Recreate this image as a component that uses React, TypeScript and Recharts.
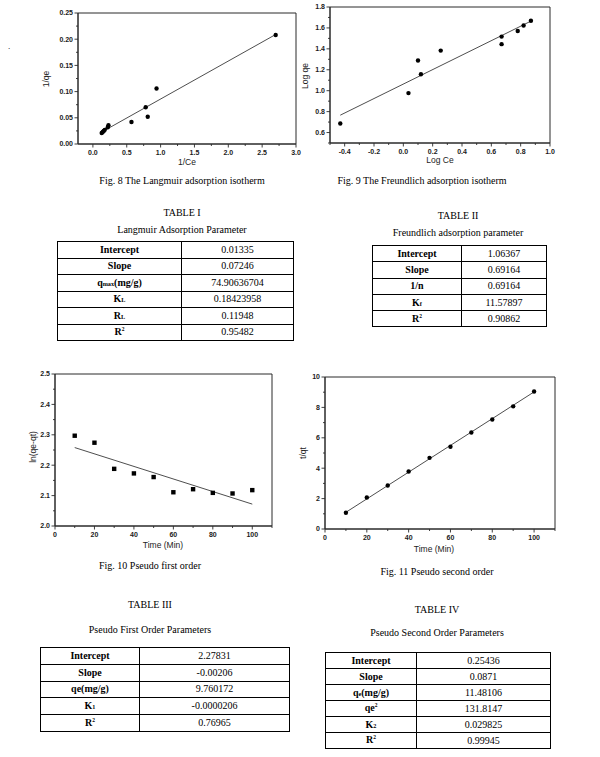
import React from 'react';
import { ScatterChart, Scatter, XAxis, YAxis, ReferenceArea } from 'recharts';

// ---------- Fig. 8 Langmuir ----------
const langX = [0.13, 0.145, 0.16, 0.175, 0.22, 0.23, 0.57, 0.78, 0.81, 0.94, 2.7];
const langY = [0.021, 0.023, 0.025, 0.027, 0.032, 0.036, 0.042, 0.07, 0.052, 0.106, 0.208];
const langFitX = [0.13, 2.7];
const langFitY = [0.0228, 0.209];
const langXMajor = [0, 0.5, 1, 1.5, 2, 2.5, 3];
const langXMinor = [0.25, 0.75, 1.25, 1.75, 2.25, 2.75];
const langYMajor = [0, 0.05, 0.1, 0.15, 0.2, 0.25];
const langYMinor = [0.025, 0.075, 0.125, 0.175, 0.225];

// ---------- Fig. 9 Freundlich ----------
const freX = [-0.43, 0.035, 0.1, 0.12, 0.255, 0.67, 0.67, 0.78, 0.82, 0.87];
const freY = [0.686, 0.977, 1.288, 1.157, 1.383, 1.445, 1.517, 1.57, 1.623, 1.668];
const freFitX = [-0.43, 0.87];
const freFitY = [0.766, 1.665];
const freXMajor = [-0.4, -0.2, 0, 0.2, 0.4, 0.6, 0.8, 1.0];
const freXMinor = [-0.5, -0.3, -0.1, 0.1, 0.3, 0.5, 0.7, 0.9];
const freYMajor = [0.6, 0.8, 1.0, 1.2, 1.4, 1.6, 1.8];
const freYMinor = [0.5, 0.7, 0.9, 1.1, 1.3, 1.5, 1.7];

// ---------- Fig. 10 Pseudo first order ----------
const timeMin = [10, 20, 30, 40, 50, 60, 70, 80, 90, 100];
const pfoY = [2.297, 2.274, 2.188, 2.173, 2.161, 2.111, 2.121, 2.109, 2.107, 2.118];
const pfoFitX = [10, 100];
const pfoFitY = [2.258, 2.072];
const timeMajor = [0, 20, 40, 60, 80, 100];
const timeMinor = [10, 30, 50, 70, 90, 110];
const pfoYMajor = [2.0, 2.1, 2.2, 2.3, 2.4, 2.5];
const pfoYMinor = [2.05, 2.15, 2.25, 2.35, 2.45];

// ---------- Fig. 11 Pseudo second order ----------
const psoY = [1.07, 2.07, 2.86, 3.78, 4.68, 5.41, 6.35, 7.2, 8.07, 9.05];
const psoFitX = [10, 100];
const psoFitY = [1.1, 9.02];
const psoYMajor = [0, 2, 4, 6, 8, 10];
const psoYMinor = [1, 3, 5, 7, 9];

// ---------- Tables ----------
const t1Labels = ['Intercept', 'Slope', 'qmax(mg/g)', 'KL', 'RL', 'R2'];
const t1Values = ['0.01335', '0.07246', '74.90636704', '0.18423958', '0.11948', '0.95482'];
const t2Labels = ['Intercept', 'Slope', '1/n', 'Kf', 'R2'];
const t2Values = ['1.06367', '0.69164', '0.69164', '11.57897', '0.90862'];
const t3Labels = ['Intercept', 'Slope', 'qe(mg/g)', 'K1', 'R2'];
const t3Values = ['2.27831', '-0.00206', '9.760172', '-0.0000206', '0.76965'];
const t4Labels = ['Intercept', 'Slope', 'qe(mg/g)', 'qe2', 'K2', 'R2'];
const t4Values = ['0.25436', '0.0871', '11.48106', '131.8147', '0.029825', '0.99945'];

const AX = '#2a2a2a';
const SANS = '"Liberation Sans", Arial, sans-serif';
const SERIF = '"Liberation Serif", "Times New Roman", serif';

const zip = (xs: number[], ys: number[]) => xs.map((x, i) => ({ x, y: ys[i] }));

type Box = { l: number; t: number; r: number; b: number };
const PADL = 44, PADT = 10, PADR = 12, PADB = 30;

function Panel(p: {
  box: Box;
  xDomain: [number, number];
  yDomain: [number, number];
  xMajor: number[]; xMinor: number[]; yMajor: number[]; yMinor: number[];
  xFmt: (v: number) => string; yFmt: (v: number) => string;
  points: { x: number; y: number }[];
  fit: { x: number; y: number }[];
  marker: 'circle' | 'square';
}) {
  const width = p.box.r - p.box.l + PADL + PADR;
  const height = p.box.b - p.box.t + PADT + PADB;
  const isMajor = (arr: number[], v: number) => arr.some((m) => Math.abs(m - v) < 1e-9);
  const xTicks = [...p.xMajor, ...p.xMinor].sort((a, b) => a - b);
  const yTicks = [...p.yMajor, ...p.yMinor].sort((a, b) => a - b);
  const xTick = (props: any) => {
    const { x, y, payload } = props;
    const major = isMajor(p.xMajor, payload.value);
    return (
      <g>
        <line x1={x} y1={y} x2={x} y2={y + (major ? 3.5 : 2)} stroke={AX} strokeWidth={0.9} />
        {major && (
          <text x={x} y={y + 10.5} textAnchor="middle" fontSize={7} fontWeight="bold" fill="#1a1a1a" fontFamily={SANS}>
            {p.xFmt(payload.value)}
          </text>
        )}
      </g>
    );
  };
  const yTick = (props: any) => {
    const { x, y, payload } = props;
    const major = isMajor(p.yMajor, payload.value);
    return (
      <g>
        <line x1={x} y1={y} x2={x - (major ? 3.5 : 2)} y2={y} stroke={AX} strokeWidth={0.9} />
        {major && (
          <text x={x - 5} y={y} dy="0.35em" textAnchor="end" fontSize={7} fontWeight="bold" fill="#1a1a1a" fontFamily={SANS}>
            {p.yFmt(payload.value)}
          </text>
        )}
      </g>
    );
  };
  const dot = (props: any) => {
    const { cx, cy } = props;
    if (p.marker === 'square') return <rect x={cx - 2.2} y={cy - 2.2} width={4.4} height={4.4} fill="#000" />;
    return <circle cx={cx} cy={cy} r={2.2} fill="#000" />;
  };
  return (
    <div style={{ position: 'absolute', left: p.box.l - PADL, top: p.box.t - PADT }}>
      <ScatterChart width={width} height={height} margin={{ top: PADT, right: PADR, bottom: 0, left: 0 }}>
        <XAxis
          type="number" dataKey="x" domain={p.xDomain} ticks={xTicks} interval={0}
          tick={xTick} tickLine={false} tickSize={0} tickMargin={0} height={PADB}
          axisLine={{ stroke: AX, strokeWidth: 1 }} allowDataOverflow
        />
        <YAxis
          type="number" dataKey="y" domain={p.yDomain} ticks={yTicks} interval={0}
          tick={yTick} tickLine={false} tickSize={0} tickMargin={0} width={PADL}
          axisLine={{ stroke: AX, strokeWidth: 1 }} allowDataOverflow
        />
        <ReferenceArea
          x1={p.xDomain[0]} x2={p.xDomain[1]} y1={p.yDomain[0]} y2={p.yDomain[1]}
          fill="none" fillOpacity={0} stroke={AX} strokeWidth={1} strokeOpacity={1}
        />
        <Scatter data={p.fit} line={{ stroke: '#3a3a3a', strokeWidth: 0.9 }} shape={() => <g />} isAnimationActive={false} />
        <Scatter data={p.points} shape={dot} isAnimationActive={false} />
      </ScatterChart>
    </div>
  );
}

function Txt(props: { x: number; y: number; size: number; children: React.ReactNode; font?: string; rotate?: boolean; color?: string }) {
  return (
    <div
      style={{
        position: 'absolute', left: props.x, top: props.y, whiteSpace: 'nowrap',
        fontSize: props.size, fontFamily: props.font || SERIF, color: props.color || '#000',
        transform: `translate(-50%, -50%)${props.rotate ? ' rotate(-90deg)' : ''}`, lineHeight: 1,
      }}
    >
      {props.children}
    </div>
  );
}

const small: React.CSSProperties = { fontSize: '0.62em' };
function renderLabel(s: string): React.ReactNode {
  switch (s) {
    case 'qmax(mg/g)': return <>q<span style={small}>max</span>(mg/g)</>;
    case 'KL': return <>K<span style={small}>L</span></>;
    case 'RL': return <>R<span style={small}>L</span></>;
    case 'R2': return <>R<sup style={{ fontSize: '0.55em' }}>2</sup></>;
    case 'Kf': return <>K<span style={small}>f</span></>;
    case 'K1': return <>K<span style={small}>1</span></>;
    case 'K2': return <>K<span style={small}>2</span></>;
    case 'qe2': return <>qe<sup style={{ fontSize: '0.55em' }}>2</sup></>;
    default: return s;
  }
}

function DataTable(p: { left: number; top: number; right: number; divider: number; rowH: number; labels: string[]; values: string[]; qeSmall?: boolean }) {
  return (
    <table
      style={{
        position: 'absolute', left: p.left, top: p.top, width: p.right - p.left, borderCollapse: 'collapse',
        fontFamily: SERIF, fontSize: 10, color: '#000', tableLayout: 'fixed',
      }}
    >
      <tbody>
        {p.labels.map((lab, i) => (
          <tr key={i} style={{ height: p.rowH }}>
            <td style={{ width: p.divider - p.left, border: '1px solid #000', padding: 0, textAlign: 'center', fontWeight: 'bold', height: p.rowH - 1, lineHeight: 1 }}>
              {p.qeSmall && lab === 'qe(mg/g)' ? <>q<span style={small}>e</span>(mg/g)</> : renderLabel(lab)}
            </td>
            <td style={{ border: '1px solid #000', padding: 0, textAlign: 'center', height: p.rowH - 1, lineHeight: 1 }}>{p.values[i]}</td>
          </tr>
        ))}
      </tbody>
    </table>
  );
}

export default function App() {
  const f1 = (v: number) => v.toFixed(1);
  const f2 = (v: number) => v.toFixed(2);
  const f0 = (v: number) => v.toFixed(0);
  return (
    <div style={{ position: 'absolute', left: 0, top: 0, width: 600, height: 757, background: '#fff', overflow: 'hidden' }}>
      <Txt x={9} y={46} size={9}>.</Txt>

      {/* Fig 8 */}
      <Panel
        box={{ l: 78, t: 13, r: 296, b: 144 }} xDomain={[-0.22, 3.0]} yDomain={[0, 0.25]}
        xMajor={langXMajor} xMinor={langXMinor} yMajor={langYMajor} yMinor={langYMinor}
        xFmt={f1} yFmt={f2} points={zip(langX, langY)} fit={zip(langFitX, langFitY)} marker="circle"
      />
      <Txt x={46} y={79} size={8.5} font={SANS} rotate color="#222">1/qe</Txt>
      <Txt x={187} y={162} size={8.5} font={SANS} color="#222">1/Ce</Txt>
      <Txt x={182} y={181} size={10}>Fig. 8 The Langmuir adsorption isotherm</Txt>

      {/* Fig 9 */}
      <Panel
        box={{ l: 330, t: 7, r: 550, b: 143 }} xDomain={[-0.5, 1.0]} yDomain={[0.5, 1.8]}
        xMajor={freXMajor} xMinor={freXMinor} yMajor={freYMajor} yMinor={freYMinor}
        xFmt={f1} yFmt={f1} points={zip(freX, freY)} fit={zip(freFitX, freFitY)} marker="circle"
      />
      <Txt x={305} y={76} size={8.5} font={SANS} rotate color="#222">Log qe</Txt>
      <Txt x={440} y={160} size={8.5} font={SANS} color="#222">Log Ce</Txt>
      <Txt x={422} y={181} size={10}>Fig. 9 The Freundlich adsorption isotherm</Txt>

      {/* Table I */}
      <Txt x={182} y={213} size={10}>TABLE I</Txt>
      <Txt x={182} y={230} size={10}>Langmuir Adsorption Parameter</Txt>
      <DataTable left={57} top={241} right={294} divider={180} rowH={16.5} labels={t1Labels} values={t1Values} />

      {/* Table II */}
      <Txt x={458} y={216} size={10}>TABLE II</Txt>
      <Txt x={458} y={233} size={10}>Freundlich adsorption parameter</Txt>
      <DataTable left={372} top={245} right={547} divider={460} rowH={16.3} labels={t2Labels} values={t2Values} />

      {/* Fig 10 */}
      <Panel
        box={{ l: 55, t: 374, r: 272, b: 526 }} xDomain={[0, 110]} yDomain={[2.0, 2.5]}
        xMajor={timeMajor} xMinor={timeMinor} yMajor={pfoYMajor} yMinor={pfoYMinor}
        xFmt={f0} yFmt={f1} points={zip(timeMin, pfoY)} fit={zip(pfoFitX, pfoFitY)} marker="square"
      />
      <Txt x={33} y={447} size={8.5} font={SANS} rotate color="#222">ln(qe-qt)</Txt>
      <Txt x={163} y={545} size={8.5} font={SANS} color="#222">Time (Min)</Txt>
      <Txt x={150} y={566} size={10}>Fig. 10 Pseudo first order</Txt>

      {/* Fig 11 */}
      <Panel
        box={{ l: 325, t: 377, r: 555, b: 529 }} xDomain={[0, 110]} yDomain={[0, 10]}
        xMajor={timeMajor} xMinor={timeMinor} yMajor={psoYMajor} yMinor={psoYMinor}
        xFmt={f0} yFmt={f0} points={zip(timeMin, psoY)} fit={zip(psoFitX, psoFitY)} marker="circle"
      />
      <Txt x={303} y={453} size={8.5} font={SANS} rotate color="#222">t/qt</Txt>
      <Txt x={434} y={549} size={8.5} font={SANS} color="#222">Time (Min)</Txt>
      <Txt x={437} y={572} size={10}>Fig. 11 Pseudo second order</Txt>

      {/* Table III */}
      <Txt x={150} y={605} size={10}>TABLE III</Txt>
      <Txt x={150} y={630} size={10}>Pseudo First Order Parameters</Txt>
      <DataTable left={40} top={647} right={290} divider={138} rowH={16.8} labels={t3Labels} values={t3Values} />

      {/* Table IV */}
      <Txt x={437} y={610} size={10}>TABLE IV</Txt>
      <Txt x={437} y={633} size={10}>Pseudo Second Order Parameters</Txt>
      <DataTable left={325} top={652} right={551} divider={415} rowH={16} labels={t4Labels} values={t4Values} qeSmall />
    </div>
  );
}
